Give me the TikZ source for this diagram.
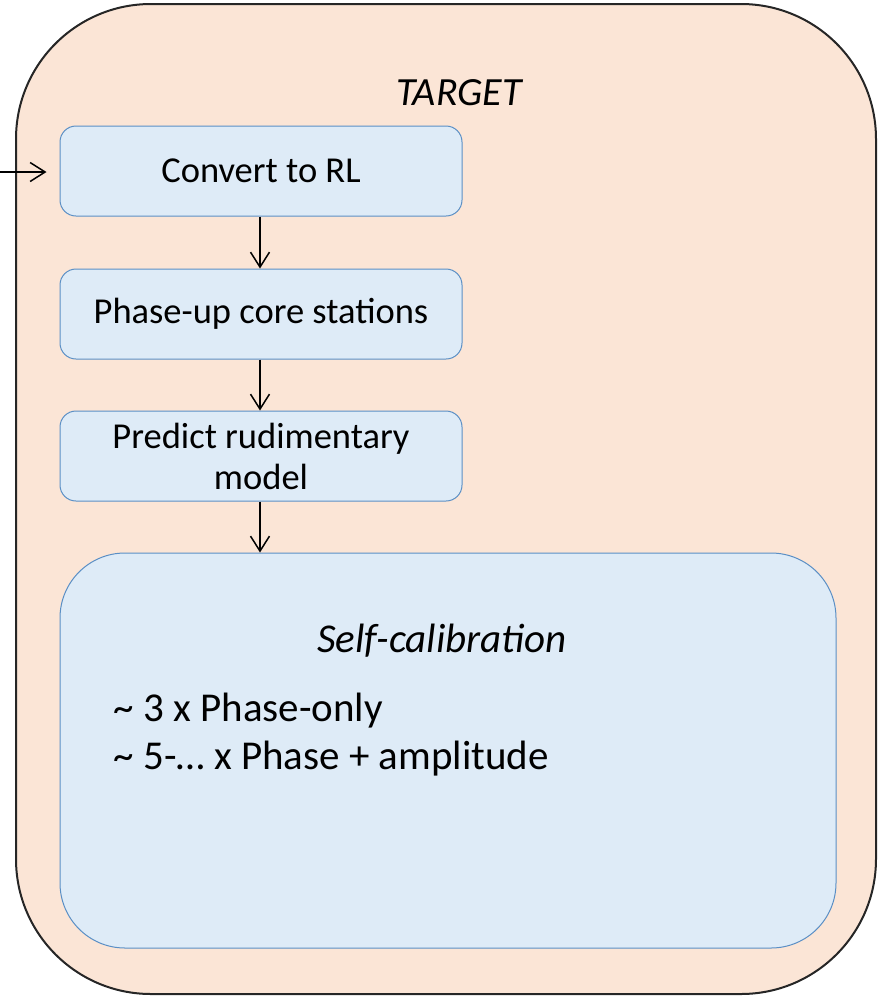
\documentclass[tikz,border=0pt]{standalone}
\usepackage{fontspec}
\setmainfont{Carlito}
\usetikzlibrary{arrows.meta}
\definecolor{peach}{HTML}{FBE5D6}
\definecolor{lightblue}{HTML}{DEEBF7}
\definecolor{blueedge}{HTML}{5B8FC5}
\tikzset{
  stepbox/.style={draw=blueedge, line width=1pt, fill=lightblue, rounded corners=16pt,
    minimum width=402pt, minimum height=90pt, inner sep=0pt, align=center,
    font=\fontsize{36.5pt}{41pt}\selectfont},
  conn/.style={line width=1.5pt, -{Straight Barb[length=15pt,width=19pt,line width=1.5pt]}},
}
\begin{document}
\begin{tikzpicture}[x=1pt,y=-1pt]
\useasboundingbox (0,0) rectangle (883,997);
\node[draw=black!85, line width=2pt, fill=peach, rounded corners=135pt,
  minimum width=860pt, minimum height=990pt, inner sep=0pt] (target) at (446,499) {};
\node[font=\fontsize{40pt}{48pt}\selectfont\itshape] (tlabel) at (459,93) {TARGET};
\node[stepbox] (convert) at (261,171) {Convert to RL};
\node[stepbox] (phase) at (261,314) {Phase-up core stations};
\node[stepbox] (predict) at (261,456) {Predict rudimentary\\model};
\node[draw=blueedge, line width=1pt, fill=lightblue, rounded corners=65pt,
  minimum width=776pt, minimum height=395pt, inner sep=0pt] (selfcal) at (448,750.5) {};
\node[font=\fontsize{41pt}{49pt}\selectfont\itshape] (sctitle) at (442,641) {Self-calibration};
\node[font=\fontsize{41pt}{49pt}\selectfont, anchor=west, align=left] (item1) at (110,711) {\textasciitilde{} 3 x Phase-only};
\node[font=\fontsize{41pt}{49pt}\selectfont, anchor=west, align=left] (item2) at (110,759) {\textasciitilde{} 5-… x Phase + amplitude};
\coordinate (in) at (0,172);
\draw[conn, shorten >=13pt] (in) -- (convert.west |- in);
\draw[conn] (convert.south -| 260,0) -- (phase.north -| 260,0);
\draw[conn] (phase.south -| 260,0) -- (predict.north -| 260,0);
\draw[conn] (predict.south -| 260,0) -- (selfcal.north -| 260,0);
\end{tikzpicture}
\end{document}
